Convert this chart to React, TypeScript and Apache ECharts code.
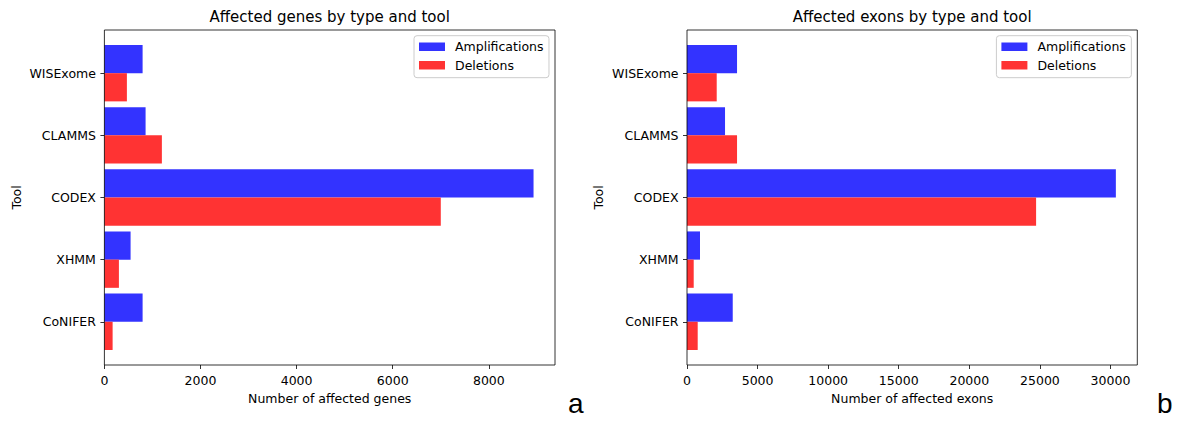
import React, { useEffect, useRef } from "react";
import * as echarts from "echarts";

const tools = ["WISExome", "CLAMMS", "CODEX", "XHMM", "CoNIFER"];
const geneAmplifications = [795, 857, 8930, 545, 795];
const geneDeletions = [468, 1196, 7000, 302, 171];
const exonAmplifications = [3545, 2694, 30380, 922, 3240];
const exonDeletions = [2105, 3545, 24730, 475, 758];
const geneTicks = [0, 2000, 4000, 6000, 8000];
const exonTicks = [0, 5000, 10000, 15000, 20000, 25000, 30000];
const seriesNames = ["Amplifications", "Deletions"];
const titles = ["Affected genes by type and tool", "Affected exons by type and tool"];
const xNames = ["Number of affected genes", "Number of affected exons"];
const yName = "Tool";
const panelLetters = ["a", "b"];

const FONT = "DejaVu Sans";
const BLUE = "#3333ff";
const RED = "#ff3333";

export default function App() {
  const ref = useRef<HTMLDivElement>(null);
  useEffect(() => {
    document.body.style.margin = "0";
    if (!ref.current) return;
    const chart = echarts.init(ref.current, null, { renderer: "svg" });

    const panels = [
      { left: 104.4, width: 450.6, amp: geneAmplifications, del: geneDeletions, ticks: geneTicks, nameGapY: 81.5, legendLeft: 414 },
      { left: 687, width: 450.3, amp: exonAmplifications, del: exonDeletions, ticks: exonTicks, nameGapY: 82.5, legendLeft: 996.4 },
    ];
    const frameTop = 30;
    const frameBottom = 365;
    const gridTop = 42.1;
    const gridHeight = 310.75;
    const axisOffset = frameBottom - (gridTop + gridHeight);
    const textStyle = { fontFamily: FONT, fontSize: 12.5, color: "#000" };

    const option: any = {
      animation: false,
      grid: panels.map((p) => ({ left: p.left, top: gridTop, width: p.width, height: gridHeight })),
      xAxis: panels.map((p, i) => ({
        type: "value",
        gridIndex: i,
        min: 0,
        max: Math.max(...p.amp, ...p.del) * 1.05,
        offset: axisOffset,
        axisLine: { show: false },
        axisTick: { show: true, length: 4, lineStyle: { color: "#000", width: 0.8 }, customValues: p.ticks },
        axisLabel: { ...textStyle, margin: 9, customValues: p.ticks, formatter: (v: number) => String(v) },
        splitLine: { show: false },
        name: xNames[i],
        nameLocation: "middle",
        nameGap: 24.8,
        nameTextStyle: textStyle,
      })),
      yAxis: panels.map((p, i) => ({
        type: "category",
        gridIndex: i,
        data: tools,
        inverse: true,
        axisLine: { show: false },
        axisTick: { show: true, alignWithLabel: true, length: 4, lineStyle: { color: "#000", width: 0.8 } },
        axisLabel: { ...textStyle, margin: 8.5 },
        splitLine: { show: false },
        name: yName,
        nameLocation: "middle",
        nameGap: p.nameGapY,
        nameTextStyle: textStyle,
      })),
      legend: panels.map((p) => ({
        orient: "vertical",
        left: p.legendLeft,
        top: 35.7,
        data: seriesNames,
        icon: "rect",
        itemWidth: 26,
        itemHeight: 8.5,
        itemGap: 5.5,
        padding: [4.55, 5.5, 5.95, 5],
        backgroundColor: "#ffffff",
        borderColor: "#cccccc",
        borderWidth: 1,
        borderRadius: 3,
        selectedMode: false,
        textStyle: { ...textStyle, padding: [0, 0, 0, 5] },
      })),
      series: panels.flatMap((p, i) => [
        {
          type: "bar",
          name: seriesNames[0],
          xAxisIndex: i,
          yAxisIndex: i,
          data: p.amp,
          barWidth: 28.2,
          barGap: "0%",
          itemStyle: { color: BLUE },
        },
        {
          type: "bar",
          name: seriesNames[1],
          xAxisIndex: i,
          yAxisIndex: i,
          data: p.del,
          barWidth: 28.2,
          barGap: "0%",
          itemStyle: { color: RED },
        },
      ]),
      graphic: [
        ...panels.map((p) => ({
          type: "rect",
          shape: { x: p.left, y: frameTop, width: p.width, height: frameBottom - frameTop },
          style: { fill: "none", stroke: "#000", lineWidth: 0.8 },
          z: 10,
          silent: true,
        })),
        ...panels.map((p, i) => ({
          type: "text",
          x: p.left + p.width / 2,
          y: 17.2,
          style: { text: titles[i], align: "center", verticalAlign: "middle", fontFamily: FONT, fontSize: 15, fill: "#000" },
        })),
        {
          type: "text",
          x: 568,
          y: 403.6,
          style: { text: panelLetters[0], align: "left", verticalAlign: "middle", fontFamily: "Liberation Sans", fontSize: 28, fill: "#000" },
        },
        {
          type: "text",
          x: 1157,
          y: 403.6,
          style: { text: panelLetters[1], align: "left", verticalAlign: "middle", fontFamily: "Liberation Sans", fontSize: 28, fill: "#000" },
        },
      ],
    };
    chart.setOption(option);
    return () => chart.dispose();
  }, []);
  return <div ref={ref} style={{ width: 1184, height: 428 }} />;
}
